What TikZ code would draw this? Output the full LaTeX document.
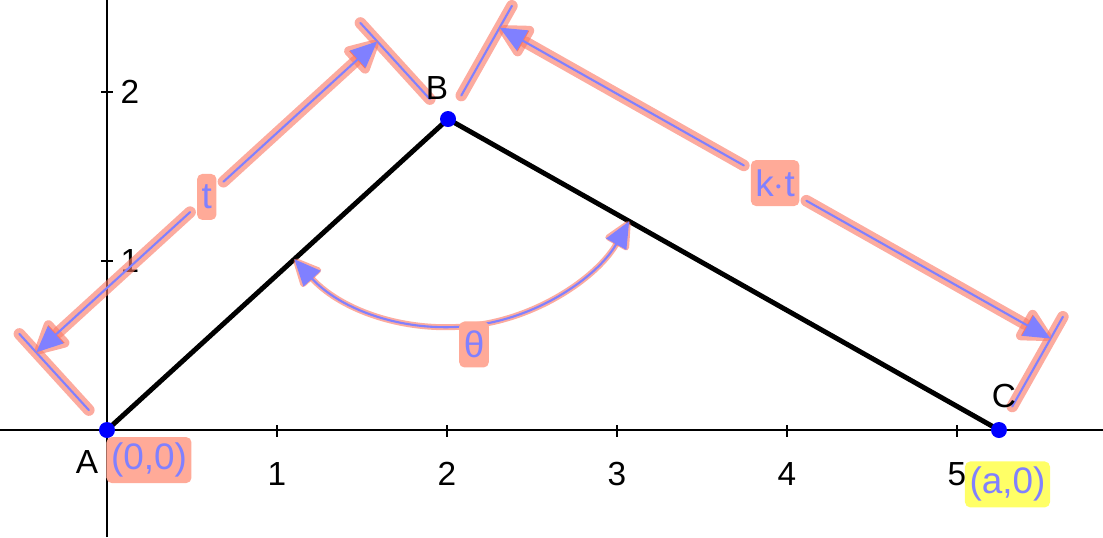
\documentclass[tikz,border=0pt]{standalone}
\usepackage{fontspec}
\setmainfont{Liberation Sans}
\usepackage{xcolor}
\definecolor{halored}{RGB}{250,120,100}
\definecolor{boxsalmon}{RGB}{255,170,152}
\definecolor{lineblue}{RGB}{128,128,255}
\definecolor{pointblue}{RGB}{0,0,255}
\definecolor{hiyellow}{RGB}{255,255,102}
\usetikzlibrary{calc,arrows.meta,positioning}

\tikzset{
    axisline/.style={line width=0.7pt},
    seg/.style={line width=1.4pt},
    dot/.style={circle, fill=pointblue, inner sep=0pt, minimum size=0.16cm},
    ptname/.style={font=\fontsize{9.5}{11}\selectfont},
    numlabel/.style={font=\fontsize{9.5}{11}\selectfont},
    lblbox/.style={fill=boxsalmon, rounded corners=1.5pt, text=lineblue,
        inner xsep=1.3pt, inner ysep=0pt, minimum height=0.46cm,
        outer sep=0.07cm, font=\fontsize{10.5}{12}\selectfont},
    dimline/.style={draw=lineblue, line width=0.6pt, line cap=round,
        >={Triangle[length=7.5pt,width=6.5pt]}},
    halo/.style={preaction={draw=halored, draw opacity=0.62, line width=3.3pt,
        line cap=round, >={Triangle[length=11pt,width=10.5pt,round]}, #1}},
    thinhalo/.style={preaction={draw=halored, draw opacity=0.62, line width=1.7pt,
        line cap=round, >={Triangle[length=9pt,width=8pt,round]}, #1}}
}

\begin{document}
\begin{tikzpicture}[x=1.7cm, y=1.69cm]
    \useasboundingbox (-0.6294,-0.6331) rectangle (5.8588,2.5444);

    % axes
    \draw[axisline] (-0.6294,0) -- (5.8588,0);
    \draw[axisline] (0,-0.6331) -- (0,2.5444);
    \foreach \x in {1,...,5} {
        \draw[axisline] (\x,-0.041) -- (\x,0.03);
        \node[numlabel] (xl\x) at (\x,-0.26) {\x};
    }
    \foreach \y in {1,2} {
        \draw[axisline] (-0.035,\y) -- (0.035,\y);
        \node[numlabel] (yl\y) at (0.135,\y) {\y};
    }

    % triangle points
    \coordinate (A) at (0,0);
    \coordinate (B) at (2.006,1.84);
    \coordinate (C) at (5.247,0);
    \draw[seg] (A) -- (B) -- (C);

    % dimension t along AB
    \coordinate (tA) at ($(A)!1.05cm!90:(B)$);
    \coordinate (tB) at ($(B)!1.05cm!-90:(A)$);
    \draw[dimline, halo=-] ($(A)!0.27cm!90:(B)$) -- ($(A)!1.3cm!90:(B)$);
    \draw[dimline, halo=-] ($(B)!0.27cm!-90:(A)$) -- ($(B)!1.3cm!-90:(A)$);
    \node[lblbox] (lt) at ($(tA)!0.5!(tB)$) {t};
    \draw[dimline, halo=<-, <-] (tA) -- (lt);
    \draw[dimline, halo=->, ->] (lt) -- (tB);

    % dimension k.t along BC
    \coordinate (kB) at ($(B)!1.05cm!90:(C)$);
    \coordinate (kC) at ($(C)!1.05cm!-90:(B)$);
    \draw[dimline, halo=-] ($(B)!0.27cm!90:(C)$) -- ($(B)!1.3cm!90:(C)$);
    \draw[dimline, halo=-] ($(C)!0.27cm!-90:(B)$) -- ($(C)!1.3cm!-90:(B)$);
    \node[lblbox] (lkt) at ($(kB)!0.5!(kC)$) {k$\cdot$t};
    \draw[dimline, halo=<-, <-] (kB) -- (lkt);
    \draw[dimline, halo=->, ->] (lkt) -- (kC);

    % angle theta at B
    \draw[dimline, thinhalo=<->, <->] ($(B)+(222.37:2.08cm)$)
        arc[start angle=222.37, end angle=330.56, radius=2.08cm];
    \node[lblbox] (lth) at (2.159,0.506) {θ};

    % points and names
    \node[dot] (pA) at (A) {};
    \node[dot] (pB) at (B) {};
    \node[dot] (pC) at (C) {};
    \node[ptname] (nA) at (-0.118,-0.189) {A};
    \node[ptname] (nB) at (1.941,2.024) {B};
    \node[ptname] (nC) at (5.276,0.201) {C};
    \node[lblbox] (cA) at (0.247,-0.178) {(0,0)};
    \node[lblbox, fill=hiyellow] (cC) at (5.297,-0.322) {(a,0)};
\end{tikzpicture}
\end{document}
